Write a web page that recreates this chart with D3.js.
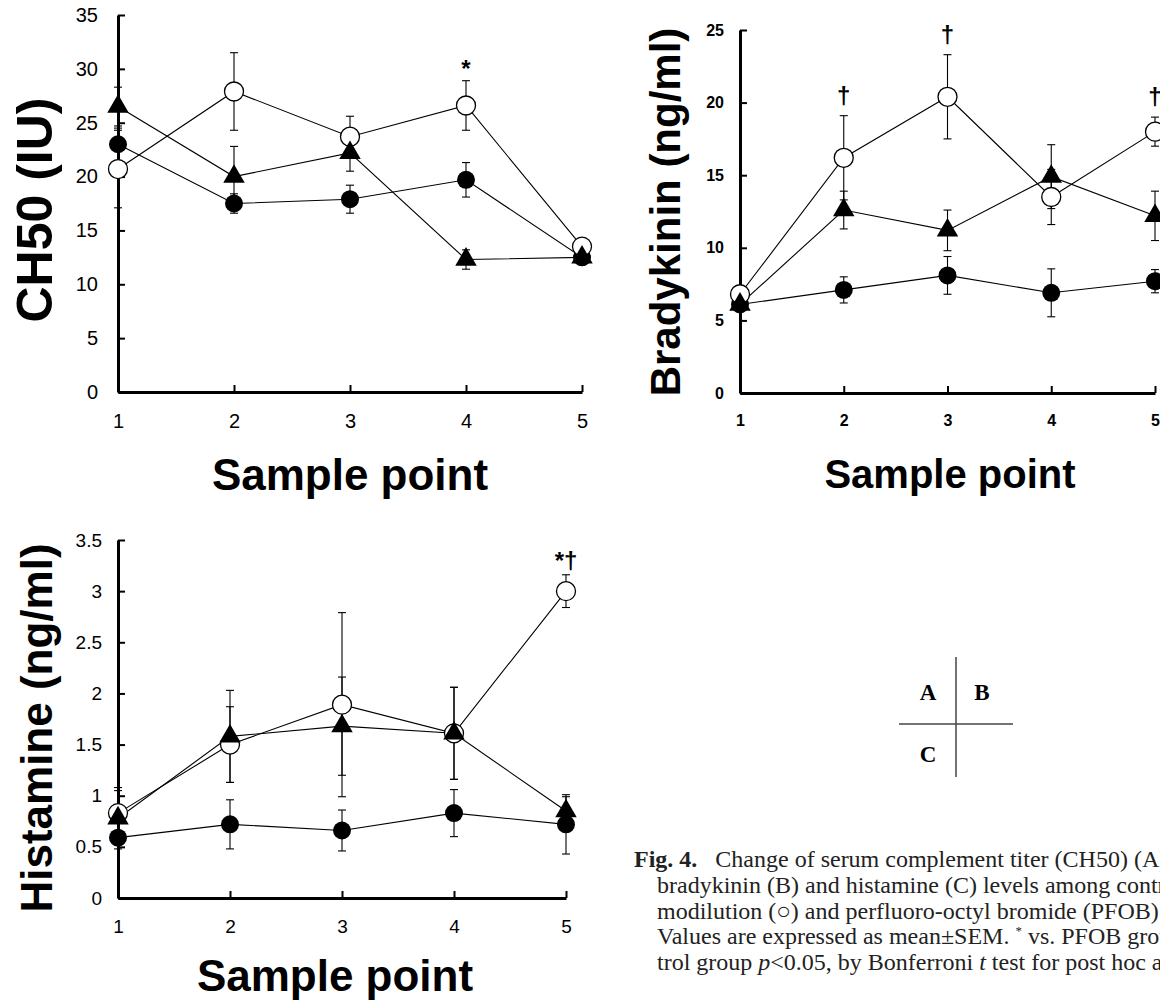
<!DOCTYPE html>
<html lang="en">
<head>
<meta charset="UTF-8">
<title>Fig. 4 - CH50, bradykinin and histamine</title>
<style>
  body { margin: 0; background: #fff; }
  svg { display: block; }
  .axis path { stroke: #000; stroke-width: 3; }
  .axis line { stroke: #000; stroke-width: 2; }
</style>
</head>
<body>
<svg id="fig" width="1160" height="1001"></svg>
<script src="https://d3js.org/d3.v7.min.js"></script>
<script>
var samplePoints = [1, 2, 3, 4, 5];

// A: CH50 (IU)
var ch50Ticks = [0, 5, 10, 15, 20, 25, 30, 35];
var ch50Control = [23.0, 17.5, 17.9, 19.7, 12.5];
var ch50ControlErr = [1.5, 0.9, 1.3, 1.6, 0.3];
var ch50Hemo = [20.7, 27.9, 23.7, 26.6, 13.5];
var ch50HemoErr = [3.6, 3.6, 1.9, 2.3, 0.4];
var ch50Pfob = [26.5, 20.0, 22.2, 12.3, 12.5];
var ch50PfobErr = [1.8, 2.8, 1.7, 0.9, 0.3];
var ch50Marks = ["", "", "", "*", ""];

// B: Bradykinin (ng/ml)
var bkTicks = [0, 5, 10, 15, 20, 25];
var bkControl = [6.1, 7.1, 8.1, 6.9, 7.7];
var bkControlErr = [0.3, 0.9, 1.3, 1.65, 0.8];
var bkHemo = [6.8, 16.2, 20.4, 13.5, 18.0];
var bkHemoErr = [0.4, 2.9, 2.9, 1.9, 1.0];
var bkPfob = [6.1, 12.6, 11.2, 14.9, 12.2];
var bkPfobErr = [0.3, 1.3, 1.4, 2.2, 1.7];
var bkMarks = ["", "\u2020", "\u2020", "", "\u2020"];

// C: Histamine (ng/ml)
var hisTicks = [0, 0.5, 1, 1.5, 2, 2.5, 3, 3.5];
var hisControl = [0.59, 0.72, 0.66, 0.83, 0.72];
var hisControlErr = [0.07, 0.24, 0.2, 0.23, 0.29];
var hisHemo = [0.83, 1.50, 1.89, 1.61, 3.00];
var hisHemoErr = [0.22, 0.37, 0.9, 0.45, 0.16];
var hisPfob = [0.78, 1.58, 1.68, 1.61, 0.85];
var hisPfobErr = [0.3, 0.45, 0.48, 0.45, 0.14];
var hisMarks = ["", "", "", "", "*\u2020"];

var svg = d3.select("#fig");
var sans = "'Liberation Sans', Arial, sans-serif";
var serif = "'Liberation Serif', 'Times New Roman', serif";

function drawPanel(p) {
    var x = d3.scaleLinear().domain([1, 5]).range(p.xRange);
    var y = d3.scaleLinear().domain([0, d3.max(p.yTicks)]).range(p.yRange);
    var g = svg.append("g");

    var yAxis = d3.axisLeft(y)
        .tickValues(p.yTicks)
        .tickFormat(d3.format("~g"))
        .tickSizeInner(-7).tickSizeOuter(0)
        .tickPadding(p.yPad);
    var xAxis = d3.axisBottom(x)
        .tickValues(samplePoints)
        .tickFormat(d3.format("d"))
        .tickSizeInner(-7).tickSizeOuter(0)
        .tickPadding(p.xPad);

    g.append("g").attr("class", "axis")
        .attr("transform", "translate(" + p.xRange[0] + ",0)")
        .call(yAxis)
        .selectAll("text")
        .style("font-family", sans).style("font-size", p.tickSize + "px")
        .style("font-weight", p.tickWeight).style("fill", "#000");
    g.append("g").attr("class", "axis")
        .attr("transform", "translate(0," + p.yRange[0] + ")")
        .call(xAxis)
        .selectAll("text")
        .style("font-family", sans).style("font-size", p.tickSize + "px")
        .style("font-weight", p.tickWeight).style("fill", "#000");

    var series = [
        { v: p.control, e: p.controlErr, kind: "filled" },
        { v: p.hemo, e: p.hemoErr, kind: "open" },
        { v: p.pfob, e: p.pfobErr, kind: "triangle" }
    ];

    var line = d3.line()
        .x(function(d, i) { return x(samplePoints[i]); })
        .y(function(d) { return y(d); });

    series.forEach(function(s) {
        g.append("path").datum(s.v)
            .attr("d", line)
            .attr("fill", "none").attr("stroke", "#000").attr("stroke-width", 1.1);
    });

    // error bars (mean +/- SEM)
    series.forEach(function(s) {
        s.v.forEach(function(v, i) {
            var cx = x(samplePoints[i]);
            var lo = y(v - s.e[i]), hi = y(v + s.e[i]);
            g.append("line").attr("x1", cx).attr("x2", cx).attr("y1", lo).attr("y2", hi)
                .attr("stroke", "#000").attr("stroke-width", 1.1);
            [lo, hi].forEach(function(yy) {
                g.append("line").attr("x1", cx - 4).attr("x2", cx + 4).attr("y1", yy).attr("y2", yy)
                    .attr("stroke", "#000").attr("stroke-width", 1.1);
            });
        });
    });

    // markers
    series.forEach(function(s) {
        s.v.forEach(function(v, i) {
            var cx = x(samplePoints[i]), cy = y(v);
            if (s.kind === "filled") {
                g.append("circle").attr("cx", cx).attr("cy", cy).attr("r", 9).attr("fill", "#000");
            } else if (s.kind === "open") {
                g.append("circle").attr("cx", cx).attr("cy", cy).attr("r", 9.5)
                    .attr("fill", "#fff").attr("stroke", "#000").attr("stroke-width", 1.3);
            } else {
                g.append("path")
                    .attr("d", d3.symbol().type(d3.symbolTriangle).size(200)())
                    .attr("transform", "translate(" + cx + "," + cy + ")")
                    .attr("fill", "#000");
            }
        });
    });

    // significance marks above the hemodilution error bar
    p.marks.forEach(function(m, i) {
        if (!m) return;
        g.append("text")
            .attr("x", x(samplePoints[i]))
            .attr("y", y(p.hemo[i] + p.hemoErr[i]) - p.markGap)
            .attr("text-anchor", "middle")
            .style("font-family", sans).style("font-weight", "bold")
            .style("font-size", "24px")
            .text(m);
    });

    // axis titles
    g.append("text")
        .attr("transform", "translate(" + p.yTitlePos[0] + "," + p.yTitlePos[1] + ") rotate(-90)")
        .attr("text-anchor", "middle")
        .style("font-family", sans).style("font-weight", "bold")
        .style("font-size", p.yTitleSize + "px")
        .text(p.yTitle);
    g.append("text")
        .attr("x", p.xTitlePos[0]).attr("y", p.xTitlePos[1])
        .attr("text-anchor", "middle")
        .style("font-family", sans).style("font-weight", "bold")
        .style("font-size", p.xTitleSize + "px")
        .text("Sample point");
}

drawPanel({
    xRange: [118, 582], yRange: [392, 15], yTicks: ch50Ticks,
    control: ch50Control, controlErr: ch50ControlErr,
    hemo: ch50Hemo, hemoErr: ch50HemoErr,
    pfob: ch50Pfob, pfobErr: ch50PfobErr,
    marks: ch50Marks, markGap: 4,
    tickSize: 20, tickWeight: "normal", yPad: 20, xPad: 22,
    yTitle: "CH50 (IU)", yTitleSize: 50, yTitlePos: [52, 210],
    xTitleSize: 44, xTitlePos: [350, 490]
});

drawPanel({
    xRange: [740, 1155], yRange: [393, 30], yTicks: bkTicks,
    control: bkControl, controlErr: bkControlErr,
    hemo: bkHemo, hemoErr: bkHemoErr,
    pfob: bkPfob, pfobErr: bkPfobErr,
    marks: bkMarks, markGap: 12,
    tickSize: 16, tickWeight: "bold", yPad: 16, xPad: 22,
    yTitle: "Bradykinin (ng/ml)", yTitleSize: 42, yTitlePos: [680, 212],
    xTitleSize: 40, xTitlePos: [950, 488]
});

drawPanel({
    xRange: [118, 566], yRange: [898, 540], yTicks: hisTicks,
    control: hisControl, controlErr: hisControlErr,
    hemo: hisHemo, hemoErr: hisHemoErr,
    pfob: hisPfob, pfobErr: hisPfobErr,
    marks: hisMarks, markGap: 6,
    tickSize: 19, tickWeight: "normal", yPad: 16, xPad: 22,
    yTitle: "Histamine (ng/ml)", yTitleSize: 44, yTitlePos: [52, 728],
    xTitleSize: 44, xTitlePos: [335, 991]
});

// panel key
var key = svg.append("g").style("font-family", serif).style("font-weight", "bold").style("font-size", "23px");
key.append("line").attr("x1", 956).attr("x2", 956).attr("y1", 657).attr("y2", 777).attr("stroke", "#444").attr("stroke-width", 1.5);
key.append("line").attr("x1", 899).attr("x2", 1013).attr("y1", 724).attr("y2", 724).attr("stroke", "#444").attr("stroke-width", 1.5);
key.append("text").attr("x", 928).attr("y", 700).attr("text-anchor", "middle").text("A");
key.append("text").attr("x", 982).attr("y", 700).attr("text-anchor", "middle").text("B");
key.append("text").attr("x", 928).attr("y", 762).attr("text-anchor", "middle").text("C");

// caption (runs past the right edge, as in the source page)
var cap = svg.append("g").style("font-family", serif).style("font-size", "24px").style("fill", "#222");
var l1 = cap.append("text").attr("x", 634).attr("y", 867);
l1.append("tspan").style("font-weight", "bold").text("Fig. 4.");
l1.append("tspan").attr("dx", 18).text("Change of serum complement titer (CH50) (A),");
cap.append("text").attr("x", 657).attr("y", 893).text("bradykinin (B) and histamine (C) levels among control (\u25CF), hemo-");
cap.append("text").attr("x", 657).attr("y", 919).text("modilution (\u25CB) and perfluoro-octyl bromide (PFOB) (\u25B2) groups.");
var l4 = cap.append("text").attr("x", 657).attr("y", 944);
l4.append("tspan").text("Values are expressed as mean\u00B1SEM. ");
l4.append("tspan").attr("dy", -9).style("font-size", "13px").text("*");
l4.append("tspan").attr("dy", 9).text(" vs. PFOB group, \u2020 vs. con-");
var l5 = cap.append("text").attr("x", 657).attr("y", 970);
l5.append("tspan").text("trol group ");
l5.append("tspan").style("font-style", "italic").text("p");
l5.append("tspan").text("<0.05, by Bonferroni ");
l5.append("tspan").style("font-style", "italic").text("t");
l5.append("tspan").text(" test for post hoc analysis.");
</script>
</body>
</html>
